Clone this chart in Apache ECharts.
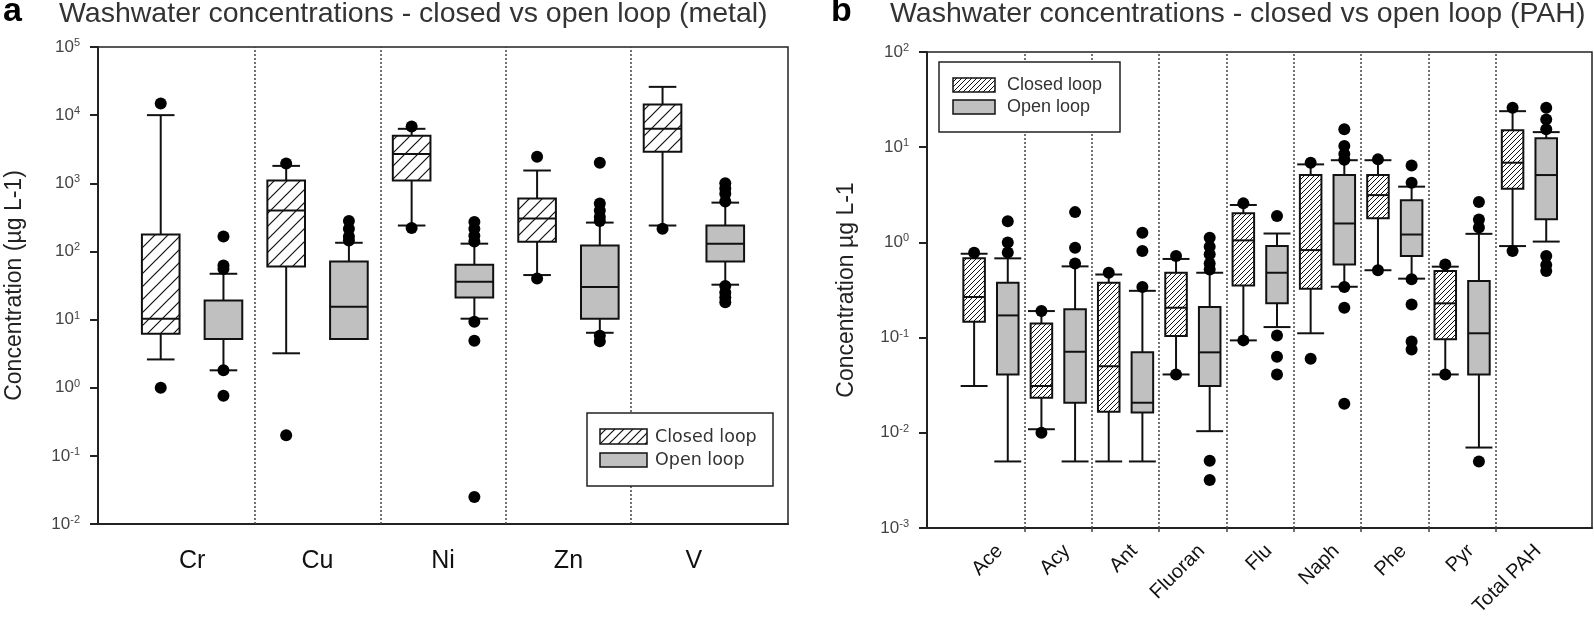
<!DOCTYPE html>
<html><head><meta charset="utf-8">
<script src="https://cdn.jsdelivr.net/npm/echarts@6/dist/echarts.min.js"></script>
<style>html,body{margin:0;padding:0;background:#fff}#c{width:1594px;height:623px}</style>
</head><body><div id="c"></div>
<script>
// ---------- Panel a: metals ----------
const metalCats = ['Cr', 'Cu', 'Ni', 'Zn', 'V'];
// [min whisker, Q1, median, Q3, max whisker]
const metalClosed = [
  [2.6, 6.2, 10.3, 177, 10000],
  [3.2, 60, 400, 1100, 1800],
  [240, 1100, 2700, 5000, 6300],
  [45, 139, 303, 596, 1540],
  [240, 2900, 6300, 14300, 26000]
];
const metalOpen = [
  [1.8, 5.2, 5.2, 19, 47],
  [5.2, 5.2, 15.4, 71, 134],
  [10.3, 21, 36, 64, 130],
  [6.4, 10.3, 30, 122, 265],
  [32.5, 71, 130, 240, 520]
];
// outliers: [category index, value]
const metalClosedOut = [[0, 14800], [0, 1.0], [1, 1950], [1, 0.2], [2, 6800], [2, 220], [3, 2450], [3, 40], [4, 215]];
const metalOpenOut = [
  [0, 165], [0, 62], [0, 55], [0, 1.8], [0, 0.76],
  [1, 280], [1, 215], [1, 165], [1, 145],
  [2, 270], [2, 215], [2, 170], [2, 140], [2, 9.3], [2, 4.9], [2, 0.025],
  [3, 2000], [3, 505], [3, 400], [3, 320], [3, 280], [3, 5.8], [3, 4.8],
  [4, 1000], [4, 840], [4, 700], [4, 540], [4, 31], [4, 25], [4, 21], [4, 18]
];
const metalDividers = [0.5, 1.5, 2.5, 3.5];

// ---------- Panel b: PAH ----------
const pahCats = ['Ace', 'Acy', 'Ant', 'Fluoran', 'Flu', 'Naph', 'Phe', 'Pyr', 'Total PAH'];
const pahClosed = [
  [0.031, 0.147, 0.267, 0.68, 0.76],
  [0.0109, 0.0233, 0.031, 0.141, 0.19],
  [0.005, 0.0166, 0.050, 0.377, 0.46],
  [0.041, 0.104, 0.206, 0.48, 0.67],
  [0.0935, 0.353, 1.05, 2.02, 2.47],
  [0.111, 0.326, 0.83, 5.1, 6.6],
  [0.51, 1.79, 3.14, 5.1, 7.3],
  [0.041, 0.0958, 0.229, 0.50, 0.556],
  [0.915, 3.66, 6.87, 15.1, 23.9]
];
const pahOpen = [
  [0.005, 0.041, 0.171, 0.377, 0.68],
  [0.005, 0.0207, 0.071, 0.198, 0.56],
  [0.005, 0.0163, 0.0207, 0.070, 0.31],
  [0.0104, 0.031, 0.070, 0.21, 0.48],
  [0.129, 0.229, 0.48, 0.915, 1.24],
  [0.342, 0.587, 1.58, 5.1, 7.3],
  [0.416, 0.718, 1.21, 2.78, 3.85],
  [0.0070, 0.041, 0.111, 0.392, 1.23],
  [1.02, 1.75, 5.1, 12.4, 14.4]
];
const pahClosedOut = [
  [0, 0.78], [1, 0.19], [1, 0.010], [2, 0.48], [3, 0.72], [3, 0.041],
  [4, 2.57], [4, 0.0935], [5, 6.87], [5, 0.06], [6, 7.45], [6, 0.51],
  [7, 0.587], [7, 0.041], [8, 26], [8, 0.81]
];
const pahOpenOut = [
  [0, 1.67], [0, 1.0], [0, 0.785],
  [1, 2.08], [1, 0.88], [1, 0.60],
  [2, 1.26], [2, 0.81], [2, 0.34],
  [3, 1.12], [3, 0.9], [3, 0.75], [3, 0.6], [3, 0.52], [3, 0.0051], [3, 0.0032],
  [4, 1.89], [4, 0.105], [4, 0.063], [4, 0.041],
  [5, 15.4], [5, 10.3], [5, 8.5], [5, 7.4], [5, 0.34], [5, 0.206], [5, 0.0202],
  [6, 6.44], [6, 4.24], [6, 0.41], [6, 0.223], [6, 0.091], [6, 0.075],
  [7, 2.65], [7, 1.74], [7, 1.43], [7, 0.0050],
  [8, 26], [8, 19.6], [8, 15.4], [8, 0.72], [8, 0.58], [8, 0.5]
];
const pahDividers = [0.5, 1.5, 2.5, 3.5, 4.5, 5.5, 6.5, 7.5];

// ---------- styling helpers ----------
function hatch(size, lw) {
  const c = document.createElement('canvas');
  c.width = size; c.height = size;
  const g = c.getContext('2d');
  g.fillStyle = '#fff'; g.fillRect(0, 0, size, size);
  g.strokeStyle = '#111'; g.lineWidth = lw;
  g.beginPath();
  g.moveTo(-1, size + 1); g.lineTo(size + 1, -1);
  g.moveTo(-1, 1); g.lineTo(1, -1);
  g.moveTo(size - 1, size + 1); g.lineTo(size + 1, size - 1);
  g.stroke();
  return c;
}
const hatchA = { image: hatch(13, 1.2), repeat: 'repeat' };
const hatchB = { image: hatch(5, 1), repeat: 'repeat' };
const hatchLegA = { image: hatch(9, 1.2), repeat: 'repeat' };
const hatchLegB = { image: hatch(5, 1), repeat: 'repeat' };
const GRAY = '#c0c0c0';

function makeRender(boxW, capW, fill) {
  return function (params, api) {
    const x = api.value(0);
    const mn = api.value(1), q1 = api.value(2), md = api.value(3), q3 = api.value(4), mx = api.value(5);
    const y = v => api.coord([x, v])[1];
    const X = dx => api.coord([x + dx, md])[0];
    const cx = X(0), xl = X(-boxW / 2), xr = X(boxW / 2), cl = X(-capW / 2), cr = X(capW / 2);
    const ls = { stroke: '#111', lineWidth: 2 };
    const ch = [];
    if (mx > q3) {
      ch.push({ type: 'line', shape: { x1: cx, y1: y(q3), x2: cx, y2: y(mx) }, style: ls });
      ch.push({ type: 'line', shape: { x1: cl, y1: y(mx), x2: cr, y2: y(mx) }, style: ls });
    }
    if (mn < q1) {
      ch.push({ type: 'line', shape: { x1: cx, y1: y(q1), x2: cx, y2: y(mn) }, style: ls });
      ch.push({ type: 'line', shape: { x1: cl, y1: y(mn), x2: cr, y2: y(mn) }, style: ls });
    }
    ch.push({ type: 'rect', shape: { x: xl, y: y(q3), width: xr - xl, height: y(q1) - y(q3) },
      style: { fill: fill, stroke: '#111', lineWidth: 2 } });
    ch.push({ type: 'line', shape: { x1: xl, y1: y(md), x2: xr, y2: y(md) }, style: ls });
    return { type: 'group', children: ch };
  };
}

const supFmt = v => {
  const e = Math.round(Math.log10(v));
  return '{b|10}{s|' + (e < 0 ? '-' + (-e) : e) + '}';
};
const supRich = {
  b: { fontSize: 17, lineHeight: 19, color: '#444', fontFamily: 'Liberation Sans' },
  s: { fontSize: 11, lineHeight: 11, verticalAlign: 'top', color: '#444', fontFamily: 'Liberation Sans' }
};

function dividerLine(vals) {
  return {
    silent: true, symbol: 'none', animation: false,
    label: { show: false },
    lineStyle: { type: [2, 2], color: '#444', width: 1.5 },
    data: vals.map(v => ({ xAxis: v }))
  };
}

const OFF = 0.25;
const LABEL_SHIFT_B = 0.13;
const option = {
  animation: false,
  backgroundColor: '#fff',
  title: [
    { text: 'a', left: 3, top: -5, padding: 0, textStyle: { fontSize: 34, fontWeight: 'bold', color: '#000', fontFamily: 'Liberation Sans' } },
    { text: 'Washwater concentrations - closed vs open loop (metal)', left: 59, top: 0, padding: 0,
      textStyle: { fontSize: 28.5, fontWeight: 'normal', color: '#333', fontFamily: 'Liberation Sans' } },
    { text: 'b', left: 831, top: -5, padding: 0, textStyle: { fontSize: 34, fontWeight: 'bold', color: '#000', fontFamily: 'Liberation Sans' } },
    { text: 'Washwater concentrations - closed vs open loop (PAH)', left: 890, top: 0, padding: 0,
      textStyle: { fontSize: 28.5, fontWeight: 'normal', color: '#333', fontFamily: 'Liberation Sans' } }
  ],
  grid: [
    { left: 98, top: 47, width: 690, height: 477, show: true, borderColor: '#222', borderWidth: 1.5, backgroundColor: 'transparent' },
    { left: 927, top: 52, width: 665, height: 476, show: true, borderColor: '#222', borderWidth: 1.5, backgroundColor: 'transparent' }
  ],
  xAxis: [
    { gridIndex: 0, type: 'value', min: -0.75, max: 4.75,
      axisLine: { onZero: false, lineStyle: { color: '#222', width: 2 } },
      axisTick: { show: false }, splitLine: { show: false },
      axisLabel: { customValues: [0, 1, 2, 3, 4], formatter: v => metalCats[Math.round(v)],
        fontSize: 25, color: '#111', margin: 25, fontFamily: 'Liberation Sans' } },
    { gridIndex: 1, type: 'value', min: -0.95, max: 8.93,
      axisLine: { onZero: false, lineStyle: { color: '#222', width: 2 } },
      axisTick: { show: true, customValues: pahDividers, length: 4, lineStyle: { color: '#444', width: 1.5 } },
      splitLine: { show: false },
      axisLabel: { customValues: pahCats.map((c, i) => i + LABEL_SHIFT_B), formatter: v => pahCats[Math.round(v)],
        rotate: 45, fontSize: 20, color: '#111', margin: 20, fontFamily: 'Liberation Sans' } }
  ],
  yAxis: [
    { gridIndex: 0, type: 'log', logBase: 10, min: 0.01, max: 100000, interval: 1,
      axisLine: { show: true, onZero: false, lineStyle: { color: '#222', width: 2 } },
      axisTick: { show: true, inside: false, length: 8, lineStyle: { color: '#222', width: 2 } },
      minorTick: { show: false }, splitLine: { show: false },
      axisLabel: { formatter: supFmt, rich: supRich, margin: 18 },
      name: 'Concentration (µg L-1)', nameLocation: 'middle', nameRotate: 90, nameGap: 72,
      nameTextStyle: { fontSize: 23, color: '#222', fontFamily: 'Liberation Sans' } },
    { gridIndex: 1, type: 'log', logBase: 10, min: 0.001, max: 100, interval: 1,
      axisLine: { show: true, onZero: false, lineStyle: { color: '#222', width: 2 } },
      axisTick: { show: true, inside: false, length: 8, lineStyle: { color: '#222', width: 2 } },
      minorTick: { show: false }, splitLine: { show: false },
      axisLabel: { formatter: supFmt, rich: supRich, margin: 18 },
      name: 'Concentration µg L-1', nameLocation: 'middle', nameRotate: 90, nameGap: 69,
      nameTextStyle: { fontSize: 23, color: '#222', fontFamily: 'Liberation Sans' } }
  ],
  series: [
    { type: 'custom', name: 'Closed loop', xAxisIndex: 0, yAxisIndex: 0, z: 2,
      renderItem: makeRender(0.30, 0.22, hatchA), encode: { x: 0, y: [1, 2, 3, 4, 5] },
      data: metalClosed.map((d, i) => [i - OFF].concat(d)),
      markLine: dividerLine(metalDividers) },
    { type: 'custom', name: 'Open loop', xAxisIndex: 0, yAxisIndex: 0, z: 2,
      renderItem: makeRender(0.30, 0.22, GRAY), encode: { x: 0, y: [1, 2, 3, 4, 5] },
      data: metalOpen.map((d, i) => [i + OFF].concat(d)) },
    { type: 'scatter', xAxisIndex: 0, yAxisIndex: 0, z: 3, symbol: 'circle', symbolSize: 12,
      itemStyle: { color: '#000', opacity: 1 }, data: metalClosedOut.map(d => [d[0] - OFF, d[1]]) },
    { type: 'scatter', xAxisIndex: 0, yAxisIndex: 0, z: 3, symbol: 'circle', symbolSize: 12,
      itemStyle: { color: '#000', opacity: 1 }, data: metalOpenOut.map(d => [d[0] + OFF, d[1]]) },

    { type: 'custom', name: 'Closed loop', xAxisIndex: 1, yAxisIndex: 1, z: 2,
      renderItem: makeRender(0.32, 0.40, hatchB), encode: { x: 0, y: [1, 2, 3, 4, 5] },
      data: pahClosed.map((d, i) => [i - OFF].concat(d)),
      markLine: dividerLine(pahDividers) },
    { type: 'custom', name: 'Open loop', xAxisIndex: 1, yAxisIndex: 1, z: 2,
      renderItem: makeRender(0.32, 0.40, GRAY), encode: { x: 0, y: [1, 2, 3, 4, 5] },
      data: pahOpen.map((d, i) => [i + OFF].concat(d)) },
    { type: 'scatter', xAxisIndex: 1, yAxisIndex: 1, z: 3, symbol: 'circle', symbolSize: 12,
      itemStyle: { color: '#000', opacity: 1 }, data: pahClosedOut.map(d => [d[0] - OFF, d[1]]) },
    { type: 'scatter', xAxisIndex: 1, yAxisIndex: 1, z: 3, symbol: 'circle', symbolSize: 12,
      itemStyle: { color: '#000', opacity: 1 }, data: pahOpenOut.map(d => [d[0] + OFF, d[1]]) }
  ],
  graphic: [
    // legend a
    { type: 'rect', z: 100, shape: { x: 587, y: 413, width: 186, height: 73 }, style: { fill: '#fff', stroke: '#222', lineWidth: 1.5 } },
    { type: 'rect', z: 101, shape: { x: 600, y: 429, width: 47, height: 15 }, style: { fill: hatchLegA, stroke: '#111', lineWidth: 1.5 } },
    { type: 'rect', z: 101, shape: { x: 600, y: 453, width: 47, height: 14 }, style: { fill: GRAY, stroke: '#111', lineWidth: 1.5 } },
    { type: 'text', z: 101, x: 655, y: 437, style: { text: 'Closed loop', fill: '#333', font: '17.5px "DejaVu Sans"', verticalAlign: 'middle' } },
    { type: 'text', z: 101, x: 655, y: 460, style: { text: 'Open loop', fill: '#333', font: '17.5px "DejaVu Sans"', verticalAlign: 'middle' } },
    // legend b
    { type: 'rect', z: 100, shape: { x: 939, y: 62, width: 181, height: 70 }, style: { fill: '#fff', stroke: '#222', lineWidth: 1.5 } },
    { type: 'rect', z: 101, shape: { x: 953, y: 78, width: 42, height: 14 }, style: { fill: hatchLegB, stroke: '#111', lineWidth: 1.5 } },
    { type: 'rect', z: 101, shape: { x: 953, y: 100, width: 42, height: 14 }, style: { fill: GRAY, stroke: '#111', lineWidth: 1.5 } },
    { type: 'text', z: 101, x: 1007, y: 85, style: { text: 'Closed loop', fill: '#333', font: '18px "Liberation Sans"', verticalAlign: 'middle' } },
    { type: 'text', z: 101, x: 1007, y: 107, style: { text: 'Open loop', fill: '#333', font: '18px "Liberation Sans"', verticalAlign: 'middle' } }
  ]
};
const chart = echarts.init(document.getElementById('c'), null, { renderer: 'canvas' });
chart.setOption(option);
</script>
</body></html>
